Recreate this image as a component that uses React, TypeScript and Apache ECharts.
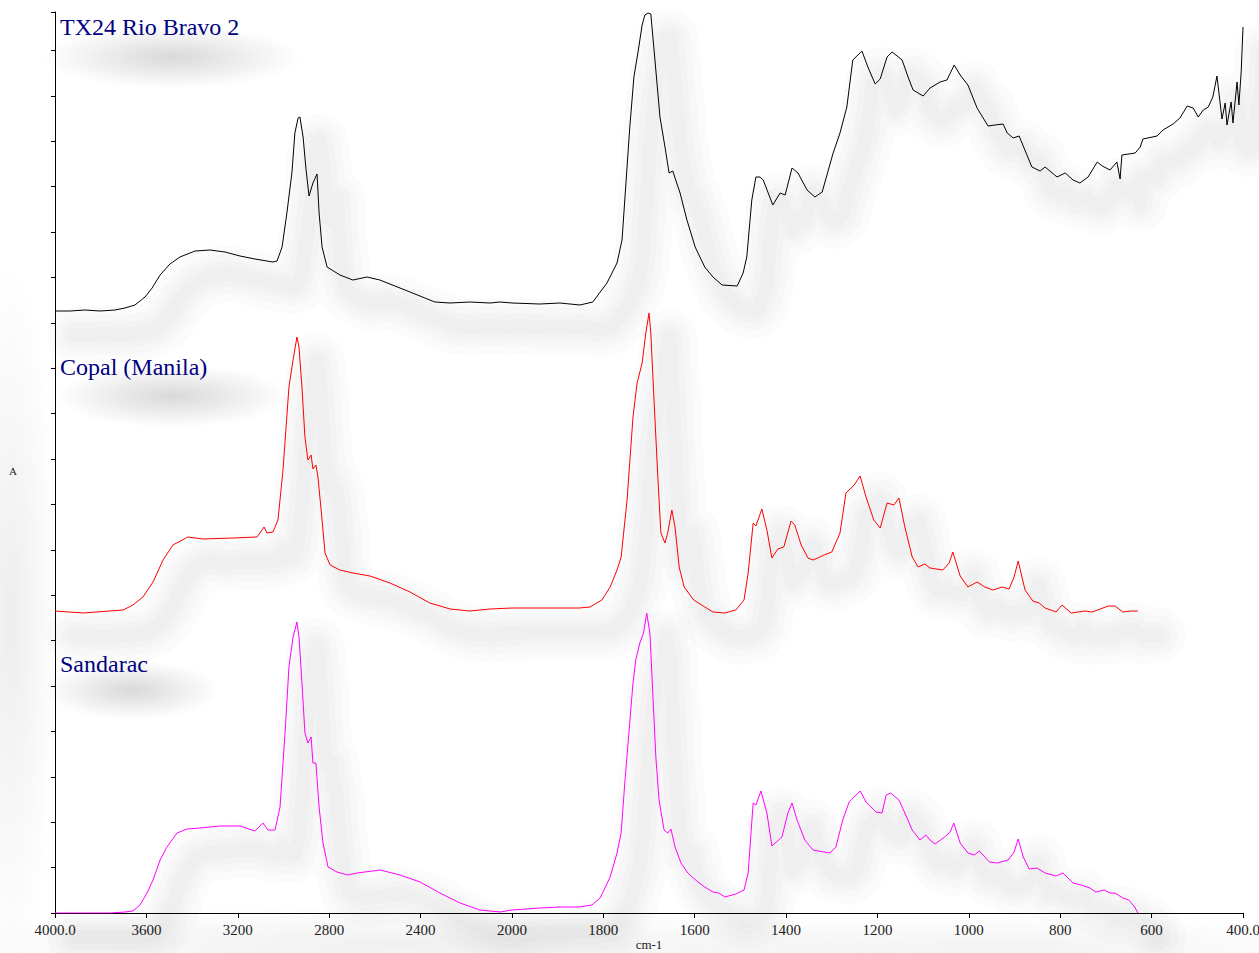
import React, { useEffect, useRef } from "react";
import * as echarts from "echarts";

// Axis ticks (wavenumber, cm-1) and their labels; the original instrument axis changes scale at 2000
const TICK_WN = [4000, 3600, 3200, 2800, 2400, 2000, 1800, 1600, 1400, 1200, 1000, 800, 600, 400];
const TICK_LABELS = ["4000.0", "3600", "3200", "2800", "2400", "2000", "1800", "1600", "1400", "1200", "1000", "800", "600", "400.0"];

const TITLES = ["TX24 Rio Bravo 2", "Copal (Manila)", "Sandarac"];

// TX24 Rio Bravo 2 (black), offset absorbance (arbitrary units)
const TX24_WN = [4000,3934,3869,3803,3737,3694,3650,3606,3575,3540,3497,3453,3387,3322,3256,3190,3125,3046,3028,3006,2985,2963,2950,2936,2928,2914,2901,2888,2871,2853,2844,2831,2809,2753,2696,2634,2578,2512,2446,2381,2337,2271,2184,2096,2052,2000,1939,1895,1851,1823,1792,1770,1759,1753,1742,1733,1724,1715,1709,1702,1696,1687,1676,1665,1656,1648,1632,1617,1599,1578,1560,1540,1507,1494,1486,1475,1466,1457,1450,1429,1413,1402,1387,1374,1354,1337,1321,1297,1282,1267,1254,1234,1221,1205,1194,1179,1168,1146,1133,1122,1100,1085,1063,1048,1032,1019,1002,982,958,943,925,916,903,890,862,844,833,807,789,772,757,739,719,708,691,676,669,665,636,625,619,588,575,553,538,522,509,498,487,476,466,457,446,439,435,426,422,413,409,404,400];
const TX24_A = [602,602,603,602,603,605,608,616,625,638,649,656,662,663,661,657,654,651,652,666,700,740,780,795,796,776,743,717,730,739,700,666,646,638,633,636,633,627,621,615,611,610,611,610,611,610,609,610,608,611,630,650,673,713,786,836,861,888,898,900,899,853,796,766,740,742,720,693,666,646,636,628,627,640,656,713,736,736,733,708,720,718,745,740,723,716,721,760,780,806,853,862,846,829,834,856,861,853,836,823,817,825,831,833,848,838,828,805,787,788,789,780,775,777,746,742,746,736,740,733,730,736,751,747,743,751,734,758,760,766,774,777,783,789,795,807,805,796,803,806,816,837,794,810,788,811,790,831,808,841,886];

// Copal (Manila) (red)
const COPAL_WN = [4000,3877,3702,3659,3615,3571,3527,3484,3418,3352,3221,3116,3103,3085,3072,3046,3024,3002,2976,2958,2941,2932,2919,2906,2893,2879,2871,2858,2849,2831,2818,2796,2753,2696,2621,2534,2446,2359,2271,2184,2096,2000,1939,1853,1829,1803,1785,1770,1761,1748,1735,1726,1715,1707,1700,1696,1689,1680,1674,1665,1659,1650,1643,1634,1623,1602,1578,1560,1534,1510,1492,1483,1472,1466,1453,1442,1431,1418,1405,1389,1381,1367,1352,1341,1326,1317,1300,1282,1269,1251,1238,1225,1208,1194,1179,1164,1153,1140,1124,1111,1096,1085,1057,1043,1035,1019,1002,982,965,947,927,912,901,892,877,860,846,833,809,796,776,746,730,695,680,663,645,630];
const COPAL_A = [302,300,303,308,316,331,353,368,376,374,375,376,380,386,380,381,393,443,526,553,576,566,526,476,453,458,444,448,436,393,360,348,343,340,337,330,321,310,304,302,304,305,305,305,306,313,326,343,356,413,496,530,550,580,600,580,513,430,380,370,380,403,386,346,326,313,306,301,300,303,313,340,390,387,404,383,355,364,366,392,388,368,355,353,356,358,361,380,420,428,437,416,393,385,410,408,415,386,356,346,349,345,343,350,361,337,326,331,326,323,326,324,336,352,323,312,310,305,301,308,300,302,301,307,307,301,302,302];

// Sandarac (magenta)
const SANDARAC_WN = [4000,3891,3759,3694,3659,3628,3597,3571,3540,3510,3466,3422,3365,3278,3190,3125,3090,3068,3037,3015,2993,2976,2958,2941,2932,2919,2906,2893,2879,2871,2858,2844,2827,2805,2766,2718,2678,2577,2490,2402,2315,2227,2140,2052,2000,1939,1895,1853,1825,1807,1785,1770,1761,1753,1744,1735,1729,1720,1712,1705,1698,1691,1685,1678,1667,1659,1652,1643,1630,1615,1593,1578,1560,1547,1534,1510,1492,1483,1472,1466,1455,1442,1431,1409,1396,1387,1376,1359,1341,1317,1304,1291,1276,1262,1238,1225,1203,1190,1181,1171,1153,1140,1124,1107,1094,1085,1074,1053,1041,1033,1019,1002,988,977,955,938,914,901,892,881,868,851,833,809,794,772,754,735,722,704,691,680,663,650,637,630];
const SANDARAC_A = [0,0,0,1,2,8,20,33,53,66,80,84,85,87,87,82,90,83,83,106,180,246,276,291,276,230,180,170,176,150,150,106,70,46,41,38,40,43,38,31,20,10,3,1,3,5,6,6,8,15,36,60,80,130,180,230,253,270,280,300,280,213,156,113,83,80,84,66,50,40,31,26,21,20,16,19,23,40,110,108,122,100,67,76,100,110,93,73,63,61,60,66,93,111,122,111,101,100,118,120,113,100,83,73,78,73,69,76,81,90,70,60,58,62,51,50,53,61,74,56,44,45,40,37,40,30,28,25,21,23,20,20,15,13,6,0];

const COLORS = ["#000000", "#ff0000", "#ff00ff"];
const SHADOW_WIDTHS = [56, 40, 26, 14];

// piecewise position along the axis: one unit per tick interval
function toU(w: number): number {
  for (let i = 0; i < TICK_WN.length - 1; i++) {
    const a = TICK_WN[i], b = TICK_WN[i + 1];
    if (w <= a && w >= b) return i + (a - w) / (a - b);
  }
  return w > TICK_WN[0] ? 0 : TICK_WN.length - 1;
}

function pairs(wn: number[], a: number[]) {
  return wn.map((w, i) => [toU(w), a[i]]);
}

const FONT = "'Liberation Serif', 'Times New Roman', serif";

export default function App() {
  const ref = useRef<HTMLDivElement>(null);
  useEffect(() => {
    document.body.style.margin = "0";
    document.body.style.overflow = "hidden";
    const chart = echarts.init(ref.current!, null, { renderer: "svg" });
    const curves = [pairs(TX24_WN, TX24_A), pairs(COPAL_WN, COPAL_A), pairs(SANDARAC_WN, SANDARAC_A)];
    const shadowSeries: any[] = [];
    curves.forEach((d) => {
      SHADOW_WIDTHS.forEach((w) => {
        shadowSeries.push({
          type: "line",
          xAxisIndex: 1,
          yAxisIndex: 1,
          data: d,
          showSymbol: false,
          silent: true,
          clip: false,
          z: 1,
          lineStyle: { width: w, color: "rgba(0,0,0,0.016)", cap: "round", join: "round" },
        });
      });
    });
    const mainSeries = curves.map((d, i) => ({
      type: "line",
      name: TITLES[i],
      xAxisIndex: 0,
      yAxisIndex: 0,
      data: d,
      showSymbol: false,
      z: 3,
      lineStyle: { width: 1, color: COLORS[i] },
    }));
    const radial = (a: number) =>
      new echarts.graphic.RadialGradient(0.5, 0.5, 0.5, [
        { offset: 0, color: `rgba(0,0,0,${a})` },
        { offset: 0.45, color: `rgba(0,0,0,${a * 0.55})` },
        { offset: 1, color: "rgba(0,0,0,0)" },
      ]);
    const blob = (cx: number, cy: number, rx: number, ry: number, a = 0.15) => ({
      type: "ellipse",
      z: 0,
      silent: true,
      shape: { cx, cy, rx, ry },
      style: { fill: radial(a) },
    });
    const title = (text: string, y: number) => ({
      type: "text",
      z: 10,
      style: { text, x: 60, y, font: `24px ${FONT}`, fill: "#000080", textVerticalAlign: "middle" },
    });
    chart.setOption({
      animation: false,
      backgroundColor: "#ffffff",
      grid: [
        { left: 55, top: 12, width: 1188, height: 901, outerBoundsMode: "none", containLabel: false },
        { left: 75, top: 36, width: 1188, height: 901, outerBoundsMode: "none", containLabel: false },
      ],
      xAxis: [
        {
          type: "value",
          gridIndex: 0,
          min: 0,
          max: TICK_WN.length - 1,
          interval: 1,
          splitLine: { show: false },
          axisLine: { lineStyle: { color: "#000", width: 1 } },
          axisTick: { length: 5, lineStyle: { color: "#000" } },
          axisLabel: {
            formatter: (v: number) => TICK_LABELS[Math.round(v)] ?? "",
            color: "#222",
            fontFamily: FONT,
            fontSize: 15,
            margin: 9,
            showMinLabel: true,
            showMaxLabel: true,
            hideOverlap: false,
          },
          name: "cm-1",
          nameLocation: "middle",
          nameGap: 25,
          nameMoveOverlap: false,
          nameTextStyle: { fontFamily: FONT, fontSize: 13, color: "#222", lineHeight: 13 },
        },
        { type: "value", gridIndex: 1, min: 0, max: TICK_WN.length - 1, show: false },
      ],
      yAxis: [
        {
          type: "value",
          gridIndex: 0,
          min: 0,
          max: 901,
          interval: 45.4,
          splitLine: { show: false },
          axisLine: { show: true, lineStyle: { color: "#000", width: 1 } },
          axisTick: { show: true, length: 4, lineStyle: { color: "#000" } },
          axisLabel: { show: false },
        },
        { type: "value", gridIndex: 1, min: 0, max: 901, show: false },
      ],
      graphic: [
        blob(10, 620, 50, 360, 0.07),
        blob(400, 945, 520, 40, 0.06),
        blob(1000, 948, 400, 35, 0.05),
        blob(172, 57, 130, 32),
        blob(172, 396, 118, 32),
        blob(132, 690, 88, 30),
        title(TITLES[0], 27),
        title(TITLES[1], 367),
        title(TITLES[2], 664),
        {
          type: "text",
          style: { text: "A", x: 13, y: 471, font: `11px ${FONT}`, fill: "#222", textAlign: "center", textVerticalAlign: "middle" },
        },
      ],
      series: [...shadowSeries, ...mainSeries],
    });
    return () => chart.dispose();
  }, []);
  return <div ref={ref} style={{ width: 1259, height: 953 }} />;
}
